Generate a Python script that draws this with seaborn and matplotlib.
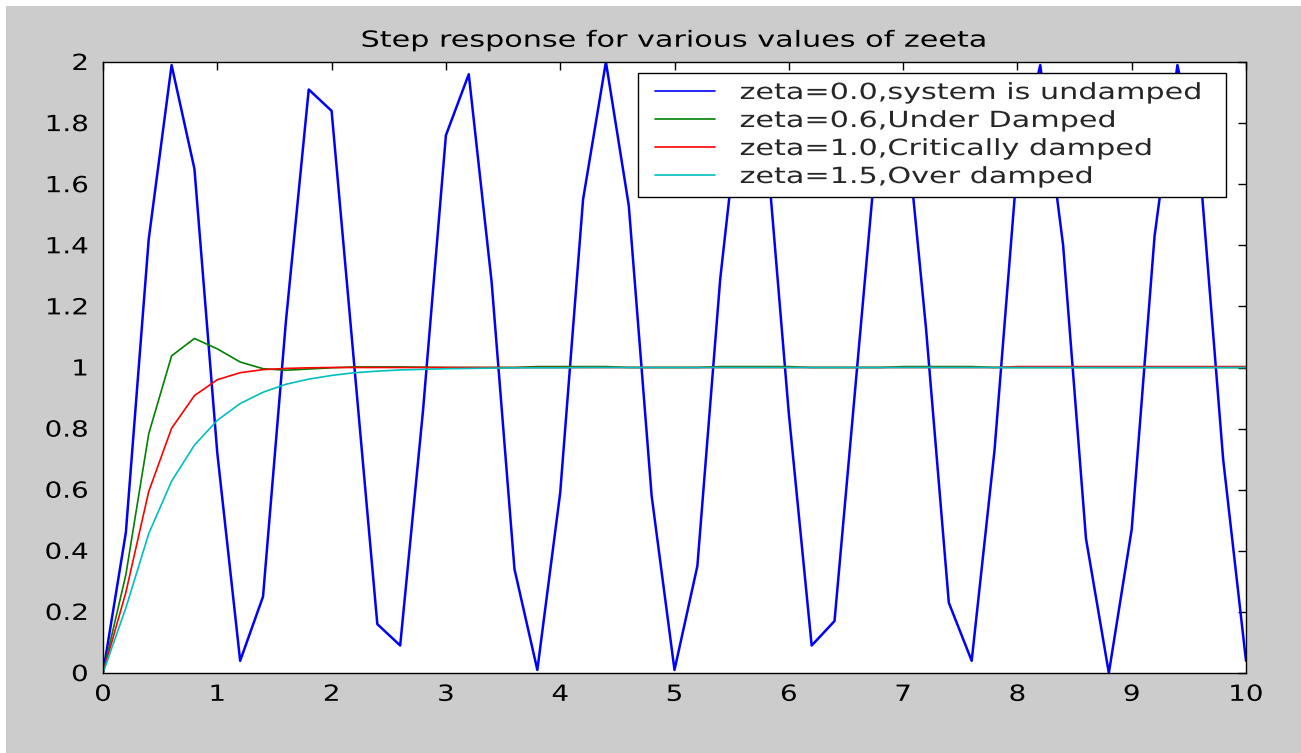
import numpy as np
import pandas as pd
import matplotlib
matplotlib.use("Agg")
import matplotlib.pyplot as plt
import seaborn as sns
from matplotlib.patches import Rectangle
from matplotlib.patheffects import AbstractPathEffect
from matplotlib.transforms import Affine2D
from matplotlib.lines import Line2D
from matplotlib.legend_handler import HandlerLine2D

# ---------------- data ----------------
time = np.round(np.arange(51) * 0.2, 1)

undamped = [0.00, 0.46, 1.42, 1.99, 1.65, 0.72, 0.04, 0.25, 1.15, 1.91,
            1.84, 1.00, 0.16, 0.09, 0.86, 1.76, 1.96, 1.28, 0.34, 0.01,
            0.59, 1.55, 2.00, 1.53, 0.58, 0.01, 0.35, 1.29, 1.96, 1.75,
            0.85, 0.09, 0.17, 1.01, 1.85, 1.90, 1.13, 0.23, 0.04, 0.73,
            1.67, 1.99, 1.40, 0.44, 0.00, 0.47, 1.43, 1.99, 1.64, 0.70,
            0.04]

under_damped = [0.000, 0.322, 0.783, 1.038, 1.095, 1.061, 1.018, 0.996, 0.991, 0.995,
                0.999, 1.002, 1.002, 1.002, 1.001, 1.000, 1.000, 1.000, 1.000, 1.003,
                1.003, 1.003, 1.003, 1.000, 1.000, 1.000, 1.000, 1.003, 1.003, 1.003,
                1.003, 1.000, 1.000, 1.000, 1.000, 1.003, 1.003, 1.003, 1.003, 1.000,
                1.000, 1.000, 1.000, 1.000, 1.000, 1.000, 1.000, 1.000, 1.000, 1.000,
                1.000]

critically_damped = [0.000, 0.264, 0.594, 0.801, 0.908, 0.960, 0.983, 0.993, 0.997, 0.999,
                     1.000, 1.000, 1.000, 1.000, 1.000, 1.000, 1.000, 1.000, 1.000, 1.000,
                     1.000, 1.000, 1.000, 1.000, 1.000, 1.000, 1.000, 1.000, 1.000, 1.000,
                     1.000, 1.000, 1.000, 1.000, 1.000, 1.000, 1.000, 1.000, 1.000, 1.000,
                     1.003, 1.003, 1.003, 1.003, 1.003, 1.003, 1.003, 1.003, 1.003, 1.003,
                     1.003]

over_damped = [0.000, 0.213, 0.456, 0.628, 0.746, 0.827, 0.882, 0.919, 0.945, 0.962,
               0.974, 0.983, 0.988, 0.992, 0.994, 0.996, 0.997, 0.998, 0.999, 0.999,
               0.999, 1.000, 1.000, 1.000, 1.000, 1.000, 1.000, 1.000, 1.000, 1.000,
               1.000, 1.000, 1.000, 1.000, 1.000, 1.000, 1.000, 1.000, 1.000, 1.000,
               1.000, 1.000, 1.000, 1.000, 1.000, 1.000, 1.000, 1.000, 1.000, 1.000,
               1.000]

series_labels = ["zeta=0.0,system is undamped",
                 "zeta=0.6,Under Damped",
                 "zeta=1.0,Critically damped",
                 "zeta=1.5,Over damped"]
title_text = "Step response for various values of zeeta"
xtick_values = list(range(0, 11))
xtick_labels = [str(v) for v in xtick_values]
ytick_values = [0.0, 0.2, 0.4, 0.6, 0.8, 1.0, 1.2, 1.4, 1.6, 1.8, 2.0]
ytick_labels = ["0", "0.2", "0.4", "0.6", "0.8", "1", "1.2", "1.4", "1.6", "1.8", "2"]

# ---------------- style ----------------
colors = ["#0000ff", "#008000", "#ff0000", "#00bfbf"]
widths = [1.8, 1.2, 1.2, 1.2]
FS = 16
GREY = "#cccccc"


class HStretch(AbstractPathEffect):
    """Widen text glyphs horizontally around an anchor."""

    def __init__(self, sx, anchor="left"):
        super().__init__()
        self.sx = sx
        self.anchor = anchor

    def draw_path(self, renderer, gc, tpath, affine, rgbFace=None):
        ext = tpath.get_extents()
        if self.anchor == "center":
            cx = 0.5 * (ext.x0 + ext.x1)
        elif self.anchor == "right":
            cx = ext.x1
        else:
            cx = 0.0
        t = Affine2D().translate(-cx, 0).scale(self.sx, 1).translate(cx, 0)
        renderer.draw_path(gc, tpath, t + affine, rgbFace)


sns.set_style("white")
plt.rcParams["font.family"] = ["DejaVu Sans"]

W, H = 1301, 753
fig = plt.figure(figsize=(W / 100, H / 100), dpi=100)
fig.patch.set_facecolor("white")
fig.add_artist(Rectangle((6 / W, 0), 1, 1 - 6 / H, transform=fig.transFigure,
                         facecolor=GREY, edgecolor="none", zorder=-10))

ax_l, ax_r, ax_t, ax_b = 103, 1246, 62, 673
ax = fig.add_axes([ax_l / W, (H - ax_b) / H, (ax_r - ax_l) / W, (ax_b - ax_t) / H])
ax.set_facecolor("white")

data = [undamped, under_damped, critically_damped, over_damped]
for vals, c, lw, lab in zip(data, colors, widths, series_labels):
    df = pd.DataFrame({"t": time, "y": vals})
    sns.lineplot(data=df, x="t", y="y", color=c, linewidth=lw, ax=ax,
                 sort=False, errorbar=None, label=lab)

ax.set_xlim(0, 10)
ax.set_ylim(0, 2)
ax.set_xticks(xtick_values)
ax.set_xticklabels(xtick_labels)
ax.set_yticks(ytick_values)
ax.set_yticklabels(ytick_labels)
ax.set_xlabel("")
ax.set_ylabel("")
ax.tick_params(direction="in", length=6, width=1, top=True, right=True,
               labelsize=FS, colors="black")
ax.tick_params(axis="y", pad=10.5)
ax.tick_params(axis="x", pad=8.5)
for sp in ax.spines.values():
    sp.set_visible(True)
    sp.set_color("black")
    sp.set_linewidth(1.0)

for lab in ax.get_xticklabels():
    lab.set_path_effects([HStretch(1.25, "center")])
for lab in ax.get_yticklabels():
    lab.set_path_effects([HStretch(1.25, "right")])

ttl = ax.set_title(title_text, fontsize=FS, pad=11, color="black")
ttl.set_path_effects([HStretch(1.36, "center")])

# legend
handles = [Line2D([], [], color=c, linewidth=1.2) for c in colors]
lx0 = (638 - ax_l) / (ax_r - ax_l)
lx1 = (1226 - ax_l) / (ax_r - ax_l)
ly1 = (ax_b - 73) / (ax_b - ax_t)
leg = ax.legend(handles, series_labels, loc="upper left",
                bbox_to_anchor=(lx0, 0, lx1 - lx0, ly1), mode="expand",
                borderaxespad=0, borderpad=0.45, fontsize=FS,
                handlelength=3.02, handletextpad=1.1, labelspacing=0.36,
                fancybox=False, shadow=False, framealpha=1,
                edgecolor="black", facecolor="white",
                handler_map={Line2D: HandlerLine2D(xpad=0.32)})
leg.get_frame().set_linewidth(1.0)
for t in leg.get_texts():
    t.set_path_effects([HStretch(1.36, "left")])

fig.savefig("out.png", dpi=100)
